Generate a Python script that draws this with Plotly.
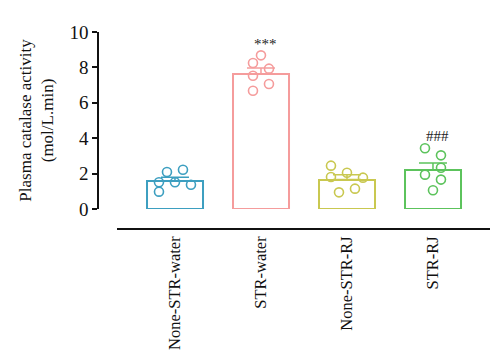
import plotly.graph_objects as go

categories = ["None-STR-water", "STR-water", "None-STR-RJ", "STR-RJ"]
means = [1.58, 7.64, 1.66, 2.20]
sems = [0.21, 0.33, 0.28, 0.40]
points = [
    [2.09, 2.22, 1.51, 1.51, 1.37, 0.98],
    [8.68, 8.25, 7.93, 7.53, 7.06, 6.68],
    [2.45, 1.81, 2.05, 1.77, 0.94, 1.15],
    [3.43, 3.03, 2.33, 1.94, 1.66, 1.06],
]
# horizontal scatter offsets (category units) for each point
jitter = [
    [-0.093, 0.093, -0.186, 0.0, 0.186, -0.186],
    [0.0, -0.093, 0.093, -0.093, 0.093, -0.093],
    [-0.186, -0.186, 0.0, 0.186, -0.093, 0.093],
    [-0.093, 0.093, 0.093, -0.093, 0.093, 0.0],
]
colors = ["#3d9fc0", "#f59c9c", "#c9c850", "#5cc35c"]
sig_labels = ["", "***", "", "###"]
sig_values = [None, 9.3, None, 4.1]

serif = "Liberation Serif, Times New Roman, serif"

fig = go.Figure()
for i, cat in enumerate(categories):
    fig.add_trace(go.Bar(
        x=[i], y=[means[i]], width=0.65,
        marker=dict(color="rgba(255,255,255,0)", line=dict(color=colors[i], width=2)),
        error_y=dict(type="data", symmetric=False, array=[sems[i]], arrayminus=[0],
                     color=colors[i], thickness=1.5, width=14),
        showlegend=False,
    ))
    fig.add_trace(go.Scatter(
        x=[i + j for j in jitter[i]], y=points[i], mode="markers",
        marker=dict(symbol="circle-open", size=9, color=colors[i], line=dict(width=1.6)),
        showlegend=False,
    ))
    if sig_labels[i]:
        fig.add_annotation(x=i + 0.05, y=sig_values[i], text=sig_labels[i], showarrow=False,
                           font=dict(family=serif, size=15, color="#222"))

fig.update_layout(
    width=500, height=364,
    margin=dict(l=90, r=18, t=24, b=143),
    paper_bgcolor="white", plot_bgcolor="white",
    font=dict(family=serif, size=17, color="#111"),
    xaxis=dict(
        domain=[0.0485, 1], range=[-0.674, 3.663],
        tickmode="array", tickvals=list(range(4)), ticktext=categories,
        tickangle=-90, showline=True, linecolor="#111", linewidth=1.5,
        ticks="", showgrid=False, zeroline=False,
        anchor="free", position=0, tickfont=dict(size=16.5),
    ),
    yaxis=dict(
        domain=[0.1015, 1], range=[0, 10], tickvals=[0, 2, 4, 6, 8, 10],
        showline=True, linecolor="#111", linewidth=1.5, ticks="outside", ticklen=5,
        tickwidth=1.5, tickcolor="#111", showgrid=False, zeroline=False,
        anchor="free", position=0, tickfont=dict(size=19),
        title=dict(text="Plasma catalase activity<br>(mol/L.min)", font=dict(size=17), standoff=10),
    ),
    bargap=0,
)
fig.write_html("out.html")
